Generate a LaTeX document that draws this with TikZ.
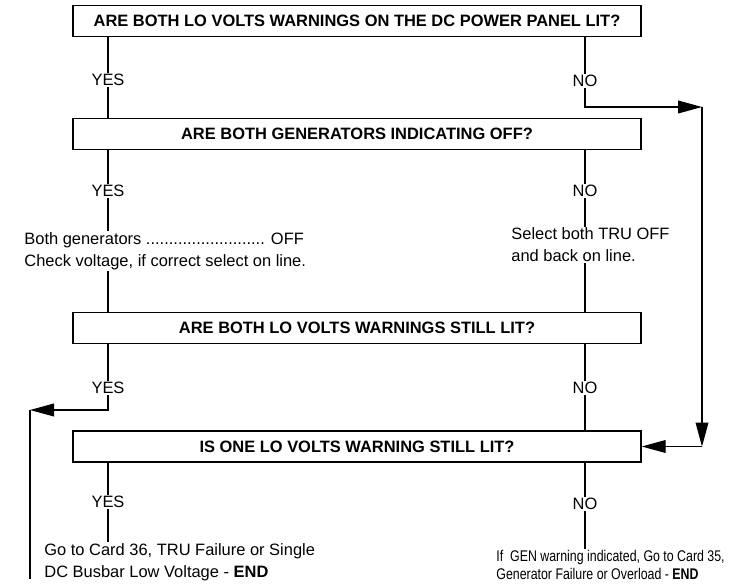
\documentclass[tikz,border=0pt]{standalone}
\usepackage{fontspec}
\setmainfont{Liberation Sans}
\newfontfamily\narrowfont[FakeStretch=0.8]{Liberation Sans}
\usetikzlibrary{arrows.meta}

\tikzset{
  qbox/.style={draw,line width=1pt,minimum width=14.2cm,minimum height=0.775cm,inner sep=0pt,font=\fontsize{11.7}{14}\selectfont\bfseries},
  ans/.style={inner sep=0.6pt,font=\fontsize{11.7}{14}\selectfont},
  note/.style={anchor=west,align=left,inner sep=0.6pt,font=\fontsize{11.7}{15.5}\selectfont},
  flow/.style={-{Triangle[length=0.6cm,width=0.32cm]}},
}

\begin{document}
\begin{tikzpicture}[line width=0.8pt]
\useasboundingbox (0,0) rectangle (18.25,14.575);

% questions
\node[qbox] (q1) at (8.925,14.05) {ARE BOTH LO VOLTS WARNINGS ON THE DC POWER PANEL LIT?};
\node[qbox] (q2) at (8.925,11.225) {ARE BOTH GENERATORS INDICATING OFF?};
\node[qbox] (q3) at (8.925,6.375) {ARE BOTH LO VOLTS WARNINGS STILL LIT?};
\node[qbox] (q4) at (8.925,3.4125) {IS ONE LO VOLTS WARNING STILL LIT?};

% answers
\node[ans] (y1) at (2.7,12.575) {YES};
\node[ans] (n1) at (14.625,12.55) {NO};
\node[ans] (y2) at (2.7,9.8) {YES};
\node[ans] (n2) at (14.625,9.8) {NO};
\node[ans] (y3) at (2.7,4.875) {YES};
\node[ans] (n3) at (14.625,4.875) {NO};
\node[ans] (y4) at (2.7,2.025) {YES};
\node[ans] (n4) at (14.625,1.975) {NO};

% actions
\node[note] (gen) at (0.575,8.3) {Both generators .......................... OFF\\Check voltage, if correct select on line.};
\node[note] (tru) at (12.75,8.45) {Select both TRU OFF\\and back on line.};
\node[note] (go36) at (1.075,0.525) {Go to Card 36, TRU Failure or Single\\DC Busbar Low Voltage - \textbf{END}};
\node[note,font=\narrowfont\fontsize{11}{13}\selectfont] (go35) at (12.375,0.45) {If\ \ GEN warning indicated, Go to Card 35,\\Generator Failure or Overload - \textbf{END}};

\coordinate (c1) at (17.55,11.9);
\coordinate (c2) at (17.55,3.4125);
\coordinate (c3) at (0.75,4.325);
\coordinate (c4) at (0.75,0.1);

% links
\draw (y1 |- q1.south) -- (y1.north);
\draw (y1.south) -- (y1 |- q2.north);
\draw (n1 |- q1.south) -- (n1.north);
\draw[flow] (n1.south) |- (c1);
\draw[flow] (c1) -- (c2);
\draw[flow] (c2) -- (q4.east);

\draw (y2 |- q2.south) -- (y2.north);
\draw (y2.south) -- (y2 |- gen.north);
\draw (y2 |- gen.south) -- (y2 |- q3.north);
\draw (n2 |- q2.south) -- (n2.north);
\draw (n2.south) -- (n2 |- tru.north);
\draw (n2 |- tru.south) -- (n2 |- q3.north);

\draw (y3 |- q3.south) -- (y3.north);
\draw[flow] (y3.south) |- (c3);
\draw (c3) -- (c4);
\draw (n3 |- q3.south) -- (n3.north);
\draw (n3.south) -- (n3 |- q4.north);

\draw (y4 |- q4.south) -- (y4.north);
\draw (y4.south) -- (y4 |- go36.north);
\draw (n4 |- q4.south) -- (n4.north);
\draw (n4.south) -- (n4 |- go35.north);
\end{tikzpicture}
\end{document}
